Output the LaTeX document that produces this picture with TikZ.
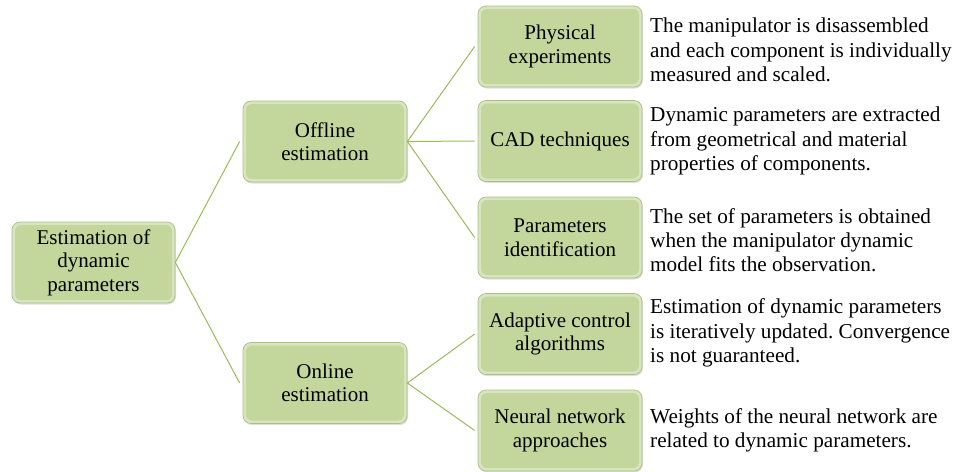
\documentclass[tikz,border=0pt]{standalone}
\usepackage{fontspec}
\setmainfont{Liberation Serif}
\usetikzlibrary{shadows}
\frenchspacing
\definecolor{boxfill}{HTML}{C3D69B}
\definecolor{boxrim}{HTML}{D8E5C0}
\definecolor{boxedge}{HTML}{A9BF85}
\definecolor{conncol}{HTML}{9BBB59}
\tikzset{
  box/.style={rounded corners=8pt, minimum width=164pt, minimum height=81pt,
    inner sep=0pt, fill=boxrim, draw=boxedge, line width=0.7pt,
    align=center, font=\fontsize{21}{23.5}\selectfont,
    drop shadow={opacity=0.25, shadow xshift=1pt, shadow yshift=-1.5pt},
    path picture={\fill[boxfill, rounded corners=6pt]
      ([shift={(3pt,-3pt)}]path picture bounding box.north west) rectangle
      ([shift={(-3pt,3pt)}]path picture bounding box.south east);}},
  desc/.style={anchor=west, align=left, inner sep=0pt,
    font=\fontsize{21.2}{24.3}\selectfont},
  conn/.style={draw=conncol, line width=1pt}
}
\begin{document}
\begin{tikzpicture}[x=1pt,y=-1pt]
\useasboundingbox (0,0) rectangle (955,471);
\node[box, minimum width=163pt] (root) at (93.5,262.5) {Estimation of\\dynamic\\parameters};
\node[box] (off) at (325,141.5) {Offline\\estimation};
\node[box] (on) at (325,383) {Online\\estimation};
\node[box] (phys) at (560,46.5) {Physical\\experiments};
\node[box] (cad) at (560,141) {CAD techniques};
\node[box] (par) at (560,237.5) {Parameters\\identification};
\node[box] (ada) at (560,334) {Adaptive control\\algorithms};
\node[box] (neu) at (560,430.5) {Neural network\\approaches};
\node[desc] (dphys) at (650,50) {The manipulator is disassembled\\and each component is individually\\measured and scaled.};
\node[desc] (dcad) at (650,141) {Dynamic parameters are extracted\\from geometrical and material\\properties of components.};
\node[desc] (dpar) at (650,240) {The set of parameters is obtained\\when the manipulator dynamic\\model fits the observation.};
\node[desc] (dada) at (650,333) {Estimation of dynamic parameters\\is iteratively updated. Convergence\\is not guaranteed.};
\node[desc] (dneu) at (650,430.5) {Weights of the neural network are\\related to dynamic parameters.};
\draw[conn] (root.east) -- ([xshift=-3pt]off.west);
\draw[conn] (root.east) -- ([xshift=-3pt]on.west);
\draw[conn] (off.east) -- ([xshift=-3pt]phys.west);
\draw[conn] (off.east) -- ([xshift=-3pt]cad.west);
\draw[conn] (off.east) -- ([xshift=-3pt]par.west);
\draw[conn] (on.east) -- ([xshift=-3pt]ada.west);
\draw[conn] (on.east) -- ([xshift=-3pt]neu.west);
\end{tikzpicture}
\end{document}
